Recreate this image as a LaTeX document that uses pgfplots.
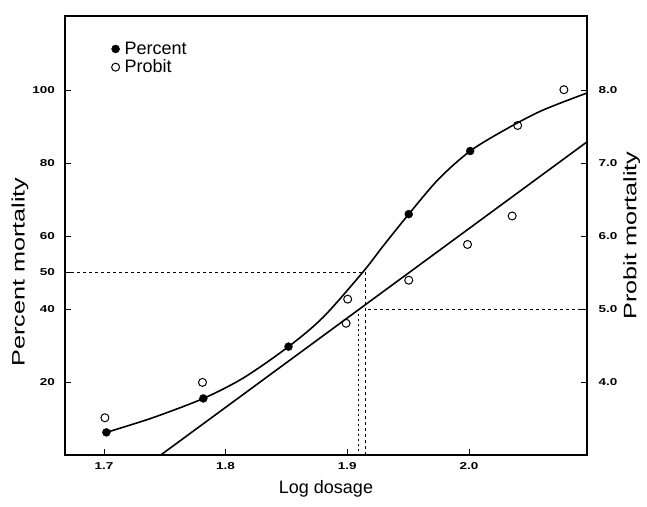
\documentclass[border=0pt]{standalone}
\usepackage{fontspec}
\setmainfont{Liberation Sans}
\usepackage{pgfplots}
\pgfplotsset{compat=1.18}

\pgfplotsset{
  common/.style={
    scale only axis, width=522pt, height=439pt,
    xmin=1.668, xmax=2.097,
    axis line style={line width=1.5pt},
    tick align=inside, major tick length=6pt,
    tick style={line width=0.8pt, black},
    ticklabel style={font=\fontsize{10}{12}\selectfont\bfseries, xscale=1.35},
    /pgf/number format/assume math mode=true,
    label style={font=\fontsize{18}{20}\selectfont},
  },
}

\begin{document}
\begin{tikzpicture}
\begin{axis}[
  common,
  ymin=0, ymax=120.3,
  xtick={1.7,1.8,1.9,2.0}, xticklabels={1.7,1.8,1.9,2.0},
  ytick={20,40,50,60,80,100},
  xtick pos=bottom, ytick pos=left,
  xticklabel style={yshift=-4pt},
  yticklabel style={xshift=-4pt},
  xlabel={Log dosage}, ylabel={Percent mortality},
  xlabel style={yshift=-4pt},
  ylabel style={at={(ticklabel cs:0.417)}, xscale=1.4, yshift=-4pt},
  legend style={draw=none, fill=none, at={(rel axis cs:0.087,0.948)}, anchor=north west,
    font=\fontsize{18}{19}\selectfont, row sep=0pt, inner sep=1pt,
    /tikz/every odd column/.append style={column sep=3pt}},
  legend cell align=left,
]
% percent mortality (observed)
\addplot[only marks, mark=*, mark size=4pt, black] coordinates {
  (1.702,6.2) (1.7817,15.5) (1.8517,29.7) (1.9505,66.0) (2.001,83.3)};
\addlegendentry{Percent}
\addlegendimage{only marks, mark=o, mark size=4pt, mark options={line width=1pt}, black}
\addlegendentry{Probit}
% fitted sigmoid
\addplot[black, line width=1.6pt, smooth, tension=0.5, forget plot] coordinates {
  (1.702,6.2) (1.74,10.2) (1.7817,15.5) (1.815,21.2) (1.8517,29.7) (1.88,37.7)
  (1.9125,50) (1.93,57.5) (1.9505,66) (1.975,75.6) (2.001,83.3) (2.03,89.2)
  (2.06,94.4) (2.097,99.2)};
% LD50 guide lines
\addplot[black, line width=0.7pt, dash pattern=on 3pt off 3pt, forget plot] coordinates {
  (1.668,50) (1.9148,50) (1.9148,0)};
\addplot[black, line width=0.7pt, dash pattern=on 3pt off 3pt, forget plot] coordinates {
  (2.097,40) (1.9148,40)};
\addplot[black, line width=0.7pt, dash pattern=on 2pt off 3pt, forget plot] coordinates {
  (1.9093,40) (1.9093,0)};
\end{axis}

\begin{axis}[
  common,
  ymin=3, ymax=9.015,
  axis y line*=right, axis x line=none,
  ytick={4,5,6,7,8}, yticklabels={4.0,5.0,6.0,7.0,8.0},
  yticklabel style={xshift=5pt},
  ylabel={Probit mortality},
  ylabel style={xscale=1.4, yshift=2pt},
]
% probit mortality (observed)
\addplot[only marks, mark=o, mark size=4pt, mark options={line width=1pt}, black] coordinates {
  (1.7008,3.51) (1.781,3.995) (1.899,4.805) (1.9003,5.135) (1.9505,5.395)
  (1.9988,5.885) (2.0355,6.275) (2.040,7.515) (2.078,8.005)};
% probit regression line
\addplot[black, line width=1.6pt] coordinates {(1.7467,3.0) (2.097,7.29)};
\end{axis}
\pgfresetboundingbox
\path (current axis.south west) ++(-65pt,-51pt) rectangle ([xshift=60pt,yshift=16pt]current axis.north east);
\end{tikzpicture}
\end{document}
